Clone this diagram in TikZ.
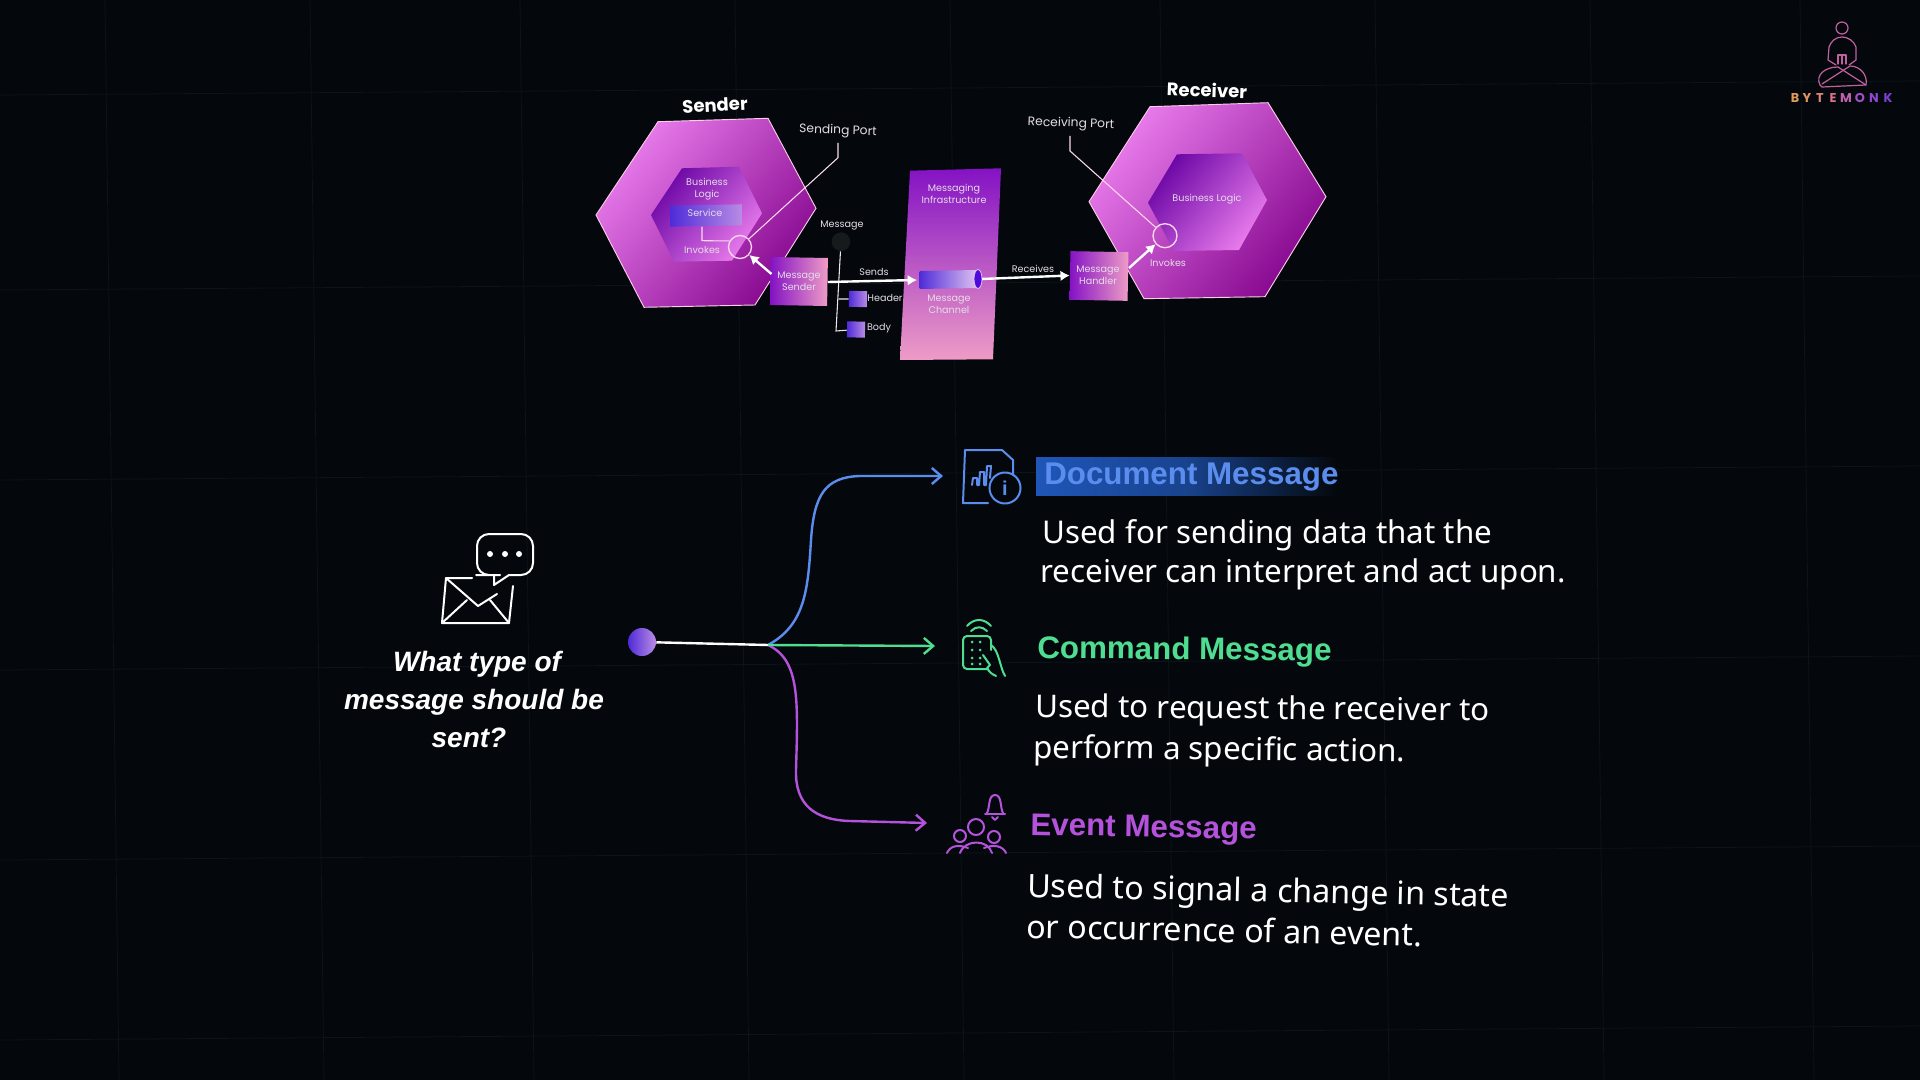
\documentclass[tikz,border=0pt]{standalone}
\usepackage{fontspec}
\setmainfont{Noto Sans}
\newfontfamily\popfont{Poppins}
\newfontfamily\headfont{Liberation Sans}
\usetikzlibrary{arrows.meta}
\definecolor{bgdark}{HTML}{04080C}
\definecolor{gridline}{HTML}{0B1418}
\definecolor{hexlight}{HTML}{E97CEC}
\definecolor{hexdark}{HTML}{86088F}
\definecolor{boxdark}{HTML}{8412C4}
\definecolor{boxpink}{HTML}{EE9CC6}
\definecolor{labelgrey}{HTML}{E4DCE8}
\definecolor{docblue}{HTML}{5B8DEF}
\definecolor{docfill}{HTML}{1F56B8}
\definecolor{cmdgreen}{HTML}{4FDE91}
\definecolor{evtpurple}{HTML}{B552DC}
\definecolor{logopink}{HTML}{C0609E}
\definecolor{svcblue}{HTML}{4F2BD8}
\definecolor{svcpale}{HTML}{B98CE4}
\tikzset{
  difflab/.style={text=labelgrey,inner sep=0pt,align=center,font=\popfont\fontsize{7.2}{8.6}\selectfont},
  portlab/.style={text=labelgrey,inner sep=0pt,font=\popfont\fontsize{9.2}{11}\selectfont},
  sidelab/.style={text=white,inner sep=0pt,font=\popfont\bfseries\fontsize{13.5}{16}\selectfont},
  headlab/.style={anchor=base west,inner sep=0pt,font=\headfont\bfseries\fontsize{23.5}{27}\selectfont},
  bodylab/.style={anchor=base west,inner sep=0pt,text=white,font=\fontsize{23.5}{27}\selectfont},
  asklab/.style={text=white,inner sep=0pt,font=\headfont\bfseries\itshape\fontsize{21}{25}\selectfont},
  msgbox/.style={inner sep=0pt,rotate=-1,shading angle=45,left color=boxdark,right color=boxpink},
  smallbox/.style={inner sep=0pt,rotate=-1,left color=svcblue,right color=svcpale,minimum width=13.5pt,minimum height=12pt},
  portring/.style={circle,draw=white!85!magenta,line width=1pt,inner sep=0pt},
  bigarrow/.style={draw=white,line width=1.8pt,-{Latex[length=7pt,width=8pt]}},
  thinline/.style={draw=white!85!magenta,line width=0.8pt},
  branch/.style={line width=1.8pt,-{Straight Barb[length=7pt,width=12pt]}},
  iconline/.style={line width=1.5pt,line cap=round,line join=round},
  logoline/.style={draw=logopink,line width=0.9pt,line cap=round,line join=round},
  logoletter/.style={inner sep=0pt,anchor=base,font=\popfont\bfseries\fontsize{9.6}{10}\selectfont},
}
\begin{document}
\begin{tikzpicture}[x=0.75pt,y=0.75pt,yscale=-1,xscale=1]
\useasboundingbox (0,0) rectangle (1920,1080);
\fill[bgdark] (0,0) rectangle (1920,1080);

%Background grid
\foreach \gx in {105,310,520,735,950,1160,1375,1590,1800}
  \draw[gridline,line width=0.6pt] (\gx,0) -- (\gx+14,1080);
\foreach \gy in {95,290,480,670,860,1040}
  \draw[gridline,line width=0.6pt] (0,\gy) -- (1920,\gy-14);

%Sender hexagons
\shade[left color=hexlight,right color=hexdark,shading angle=50] (658,121.7) -- (768,118.3) -- (816,208.3) -- (755,305) -- (644,307.3) -- (596,215) -- cycle;
\draw[white!80!magenta,line width=0.7pt] (658,121.7) -- (768,118.3) -- (816,208.3) -- (755,305) -- (644,307.3) -- (596,215) -- cycle;
\shade[left color=hexdark!80!blue,right color=hexlight,shading angle=50] (682,168.3) -- (739,166.7) -- (762,213.3) -- (732,260.7) -- (674,261.7) -- (651,215) -- cycle;
\shade[left color=svcblue,right color=svcpale,rotate around={-1:(706,215.5)}] (670,205) rectangle (742,226);

%Receiver hexagons
\shade[left color=hexlight,right color=hexdark,shading angle=50] (1150,106.7) -- (1268,102.7) -- (1326,196.7) -- (1265,296.7) -- (1144,298.7) -- (1089,201.7) -- cycle;
\draw[white!80!magenta,line width=0.7pt] (1150,106.7) -- (1268,102.7) -- (1326,196.7) -- (1265,296.7) -- (1144,298.7) -- (1089,201.7) -- cycle;
\shade[left color=hexdark!80!blue,right color=hexlight,shading angle=50] (1177,154.3) -- (1242,153.3) -- (1267,200) -- (1239,250) -- (1174,251) -- (1148,202.7) -- cycle;

%Messaging infrastructure
\shade[top color=boxdark,bottom color=boxpink] (910,170.7) -- (1001,168.3) -- (993,359.3) -- (900,360) -- cycle;

%Message channel
\shade[left color=svcblue,right color=white!75!boxdark,rounded corners=1] (919,271) -- (978,270) -- (978,288) -- (919,289) -- cycle;
\draw[fill=boxdark!60!blue,draw=white!75!boxdark,line width=0.6pt] (978,279) ellipse [x radius=4,y radius=9.5];

%Boxes and rings
\node[msgbox,minimum width=42.75pt,minimum height=36pt] (sendbox) at (799,281.5) {};
\node[msgbox,minimum width=43.5pt,minimum height=36.5pt] (handbox) at (1099,276) {};
\node[portring,minimum size=17.25pt] (sendport) at (740,247) {};
\node[portring,minimum size=18pt] (recvport) at (1165,235.7) {};
\node[circle,fill=gridline!70!gray!50!black,inner sep=0pt,minimum size=14pt] (msgdot) at (841,241.7) {};
\node[smallbox] (headsq) at (858,299) {};
\node[smallbox] (bodysq) at (856,329.5) {};
\coordinate (portsendtop) at (838,143);
\coordinate (portsendelbow) at (838,157.7);
\coordinate (portrecvtop) at (1070,136);
\coordinate (portrecvelbow) at (1070,151);
\coordinate (svcfoot) at (702,226.7);
\coordinate (svcelbow) at (702,240.7);
\coordinate (msgelbow) at (836,331);
\coordinate (headfoot) at (838.5,299);
\coordinate (boxtip) at (771.5,274);
\coordinate (sendsend) at (917,280);
\coordinate (recvstart) at (982,279);
\coordinate (handout) at (1129,268);

% Connectors
\draw[thinline] (portsendtop) -- (portsendelbow) -- (sendport);
\draw[thinline] (portrecvtop) -- (portrecvelbow) -- (recvport);
\draw[thinline] (svcfoot) -- (svcelbow) -- (sendport.150);
\draw[thinline,draw=labelgrey!70] (msgdot) -- (msgelbow) -- (bodysq);
\draw[thinline,draw=labelgrey!70] (headfoot) -- (headsq);
\draw[bigarrow] (boxtip) -- (sendport);
\draw[bigarrow] (sendbox.east) -- (sendsend);
\draw[bigarrow] (recvstart) -- (handbox.west);
\draw[bigarrow] (handout) -- (recvport);

% Text Node
\node[sidelab,rotate=3] (sendertxt) at (715,105) {Sender};
\node[sidelab,rotate=-2] (recvtxt) at (1207,90) {Receiver};
\node[portlab,rotate=-2] (sendporttxt) at (838,131) {Sending Port};
\node[portlab,rotate=-2] (recvporttxt) at (1071,124) {Receiving Port};
\node[difflab] (bizl) at (707,189) {Business\\Logic};
\node[difflab] at (705,213) (svctxt) {Service};
\node[difflab] at (702,250) (invtxt) {Invokes};
\node[difflab] at (799,281) (sndtxt) {Message\\Sender};
\node[difflab] at (842,225) (msgtxt) {Message};
\node[difflab] at (874,272) (sendstxt) {Sends};
\node[difflab] at (885,298) (headtxt) {Header};
\node[difflab] at (879,328) (bodytxt) {Body};
\node[difflab] at (954,194) (infratxt) {Messaging\\Infrastructure};
\node[difflab] at (949,304) (chantxt) {Message\\Channel};
\node[difflab] at (1033,269) (rcvstxt) {Receives};
\node[difflab] at (1098,275) (handtxt) {Message\\Handler};
\node[difflab] at (1207,199) (biz2) {Business Logic};
\node[difflab] at (1168,263) (inv2) {Invokes};

%Question
\draw[white,iconline] (472,578) -- (446,578) -- (442,623) -- (509,623) -- (513,586);
\draw[white,iconline] (446,578) -- (478,606) -- (497,594);
\draw[white,iconline] (442,623) -- (467,600);
\draw[white,iconline] (509,623) -- (490,600);
\draw[white,iconline,rounded corners=9] (494,575) -- (488,575) -- (477,575) -- (477,534) -- (533,534) -- (533,575) -- (509,575);
\draw[white,iconline] (494,575) -- (494,585) -- (509,575);
\foreach \qx in {490,505,519}
  \fill[white] (\qx,554) circle (3);
\node[asklab] (ask1) at (477,664) {What type of};
\node[asklab] (ask2) at (474,702) {message should be};
\node[asklab] (ask3) at (469,738) {sent?};

%Branches
\node[circle,inner sep=0pt,minimum size=21pt,left color=svcblue,right color=svcpale] (startdot) at (642,642) {};
\coordinate (forkpt) at (768,645);
\coordinate (docend) at (943,476);
\coordinate (cmdend) at (935,646);
\coordinate (evtend) at (927,823);
\draw[branch,docblue] (forkpt) .. controls (805,625) and (808,590) .. (811,540) .. controls (814,495) and (825,477) .. (860,476) -- (docend);
\draw[branch,evtpurple] (forkpt) .. controls (800,660) and (798,700) .. (796,770) .. controls (795,805) and (815,820) .. (850,821) -- (evtend);
\draw[branch,cmdgreen] (forkpt) -- (cmdend);
\draw[white,line width=1.8pt] (startdot) -- (forkpt);

%Document icon
\draw[docblue,iconline] (1013,475) -- (1013,460) -- (1002,450) -- (965,450) -- (963,503) -- (988,503);
\draw[docblue,iconline] (972,485) -- (973,478) -- (977,478) -- (977,485) -- (979,485) -- (980,472) -- (984,472) -- (984,485) -- (986,485) -- (987,466) -- (991,466) -- (990,478);
\draw[docblue,iconline,fill=bgdark] (1005,488) circle (15.5);
\node[docblue,inner sep=0pt,font=\headfont\bfseries\fontsize{15}{15}\selectfont] (infoi) at (1005,488) {i};

%Command icon
\draw[cmdgreen,iconline,rounded corners=3] (988,669) -- (963,669) -- (963,636) -- (991,636) -- (991,650);
\draw[cmdgreen,iconline] (967,626) .. controls (974,618) and (984,618) .. (991,626);
\draw[cmdgreen,iconline] (971,631) .. controls (976,626) and (982,626) .. (987,631);
\foreach \cy in {642,650,658,664}{
  \fill[cmdgreen] (972,\cy) circle (1.5);
  \fill[cmdgreen] (980,\cy) circle (1.5);}
\draw[cmdgreen,iconline] (991,645) .. controls (999,650) and (1000,668) .. (1005,676);
\draw[cmdgreen,iconline] (983,655) -- (990,665) -- (987,668) .. controls (990,673) and (992,674) .. (996,676);

%Event icon
\draw[evtpurple,iconline] (985,814) -- (1005,814);
\draw[evtpurple,iconline] (987,813) .. controls (990,808) and (988,795) .. (995,795) .. controls (1002,795) and (1000,808) .. (1003,813);
\draw[evtpurple,iconline] (992,817) -- (995,820) -- (998,817);
\draw[evtpurple,iconline] (976,827) circle (8);
\draw[evtpurple,iconline] (960,836) circle (6);
\draw[evtpurple,iconline] (994,837) circle (6);
\draw[evtpurple,iconline] (947,853) .. controls (950,846) and (958,844) .. (968,848);
\draw[evtpurple,iconline] (960,853) .. controls (965,839) and (988,839) .. (992,853);
\draw[evtpurple,iconline] (984,848) .. controls (994,844) and (1003,846) .. (1006,853);

%Headings
\shade[left color=docfill,right color=bgdark,middle color=docfill!75!bgdark] (1036,457) rectangle (1337,495);
\node[headlab,text=docblue] (dochead) at (1044,484) {Document Message};
\node[headlab,text=cmdgreen,rotate=-0.6] (cmdhead) at (1037,658) {Command Message};
\node[headlab,text=evtpurple,rotate=-1] (evthead) at (1030,835) {Event Message};

% Text Node
\node[bodylab] (doc1) at (1042,543) {Used for sending data that the};
\node[bodylab] (doc2) at (1040,582) {receiver can interpret and act upon.};
\node[bodylab,rotate=-0.5] (cmd1) at (1035,717) {Used to request the receiver to};
\node[bodylab,rotate=-0.6] (cmd2) at (1033,758) {perform a specific action.};
\node[bodylab,rotate=-1.2,font=\fontsize{24.2}{27}\selectfont] (evt1) at (1027,897) {Used to signal a change in state};
\node[bodylab,rotate=-1.2,font=\fontsize{24.2}{27}\selectfont] (evt2) at (1026,938) {or occurrence of an event.};

%Logo
\draw[logoline] (1842,28) circle (6);
\draw[logoline] (1836,65) -- (1828,60) -- (1829,47) .. controls (1831,41) and (1836,37) .. (1842,37) .. controls (1848,37) and (1854,41) .. (1856,47) -- (1856,60) -- (1849,65);
\draw[logoline] (1838,64) -- (1838,55) -- (1842,55) -- (1842,64);
\draw[logoline] (1846,64) -- (1846,55) -- (1842,55);
\draw[logoline] (1820,85) .. controls (1815,75) and (1825,67) .. (1838,67) -- (1866,85) -- (1822,87) -- cycle;
\draw[logoline] (1866,85) .. controls (1868,75) and (1860,66) .. (1850,66) -- (1822,84);
\foreach \lx/\lc/\lt in {1795/E09A5A/B,1807/E09466/Y,1820/E0847A/T,1833/DC7090/E,1846/C060B0/M,1860/A050C8/O,1874/8C48D0/N,1888/7C40D0/K}{
  \definecolor{logoc}{HTML}{\lc}
  \node[logoletter,text=logoc] at (\lx,103) {\lt};}
\end{tikzpicture}
\end{document}
